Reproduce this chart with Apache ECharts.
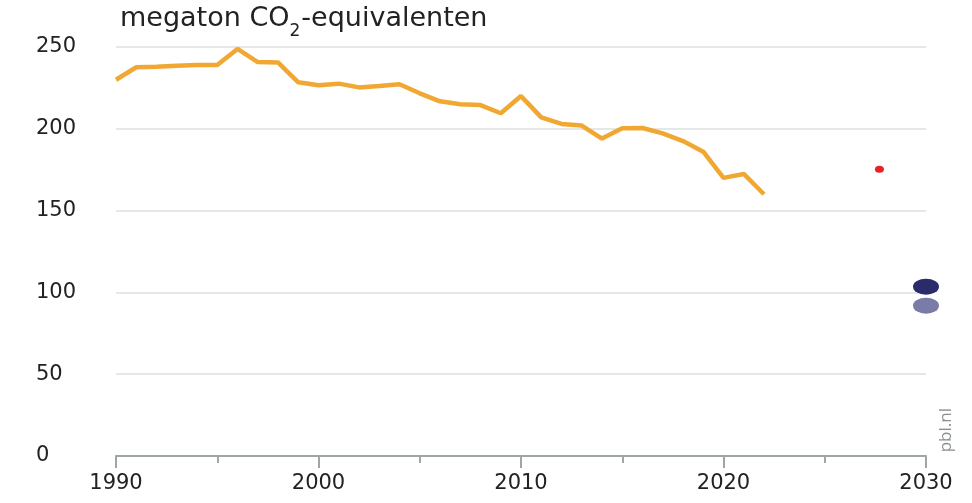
<!DOCTYPE html>
<html><head><meta charset="utf-8">
<script src="https://cdn.jsdelivr.net/npm/echarts@6/dist/echarts.min.js"></script>
<style>html,body{margin:0;padding:0;background:#fff}#c{width:972px;height:503px}</style>
</head><body><div id="c"></div>
<script>
const years = [1990,1991,1992,1993,1994,1995,1996,1997,1998,1999,2000,2001,2002,2003,2004,2005,2006,2007,2008,2009,2010,2011,2012,2013,2014,2015,2016,2017,2018,2019,2020,2021,2022];
const emissions = [230,237.6,238,238.5,239,239,248.8,240.8,240.6,228.4,226.6,227.6,225.3,226.2,227.2,221.7,216.8,215,214.5,209.5,220,207,203,202,194,200.3,200.5,197.2,192.5,186,170,172.4,160];
const redPoint = [[2027.7,175.2]];
const targetDark = [[2030,103.5]];
const targetLight = [[2030,91.9]];
const yTicks = [0,50,100,150,200,250];
const xTicks = [1990,2000,2010,2020,2030];

const font = '"DejaVu Sans", "Noto Sans", sans-serif';
const chart = echarts.init(document.getElementById('c'));
chart.setOption({
  animation:false,
  grid:{left:116,right:46,top:47,bottom:47},
  title:{
    left:115, top:0,
    text:'{a|megaton CO}{s|2}{a|-equivalenten}',
    textStyle:{fontWeight:'normal',rich:{
      a:{fontFamily:font,fontSize:27,fontWeight:'normal',color:'#222',lineHeight:36,verticalAlign:'top'},
      s:{fontFamily:font,fontSize:17,fontWeight:'normal',color:'#222',lineHeight:36,padding:[18,1,0,0],verticalAlign:'top'}
    }}
  },
  graphic:[{type:'text',left:938,top:408,rotation:Math.PI/2,
    style:{text:'pbl.nl',fontFamily:'"Open Sans", sans-serif',fontSize:17,fill:'#8a8f90'}}],
  xAxis:{type:'value',min:1990,max:2030,interval:10,
    axisLine:{show:true,lineStyle:{color:'#9ea6a6',width:2}},
    axisTick:{show:true,length:12,lineStyle:{color:'#9ea6a6',width:2}},
    minorTick:{show:true,splitNumber:2,length:7,lineStyle:{color:'#9ea6a6',width:2}},
    splitLine:{show:false},
    axisLabel:{fontFamily:font,fontSize:21,color:'#222',margin:17,formatter:v=>xTicks.includes(v)?String(v):''}
  },
  yAxis:{type:'value',min:0,max:250,interval:50,
    axisLine:{show:false},axisTick:{show:false},
    splitLine:{lineStyle:{color:'#e4e8e8',width:2}},
    axisLabel:{fontFamily:font,fontSize:21,color:'#222',align:'left',margin:80,formatter:v=>yTicks.includes(v)?String(v):''}
  },
  series:[
    {type:'line',data:years.map((y,i)=>[y,emissions[i]]),showSymbol:false,lineStyle:{color:'#f0a833',width:4.5},z:3},
    {type:'scatter',data:redPoint,symbolSize:[9,7],itemStyle:{color:'#e8222a',opacity:1}},
    {type:'scatter',data:targetDark,symbolSize:[26,16],itemStyle:{color:'#2b2a6b',opacity:1}},
    {type:'scatter',data:targetLight,symbolSize:[26,16],itemStyle:{color:'#7b7ba8',opacity:1}}
  ]
});
</script></body></html>
